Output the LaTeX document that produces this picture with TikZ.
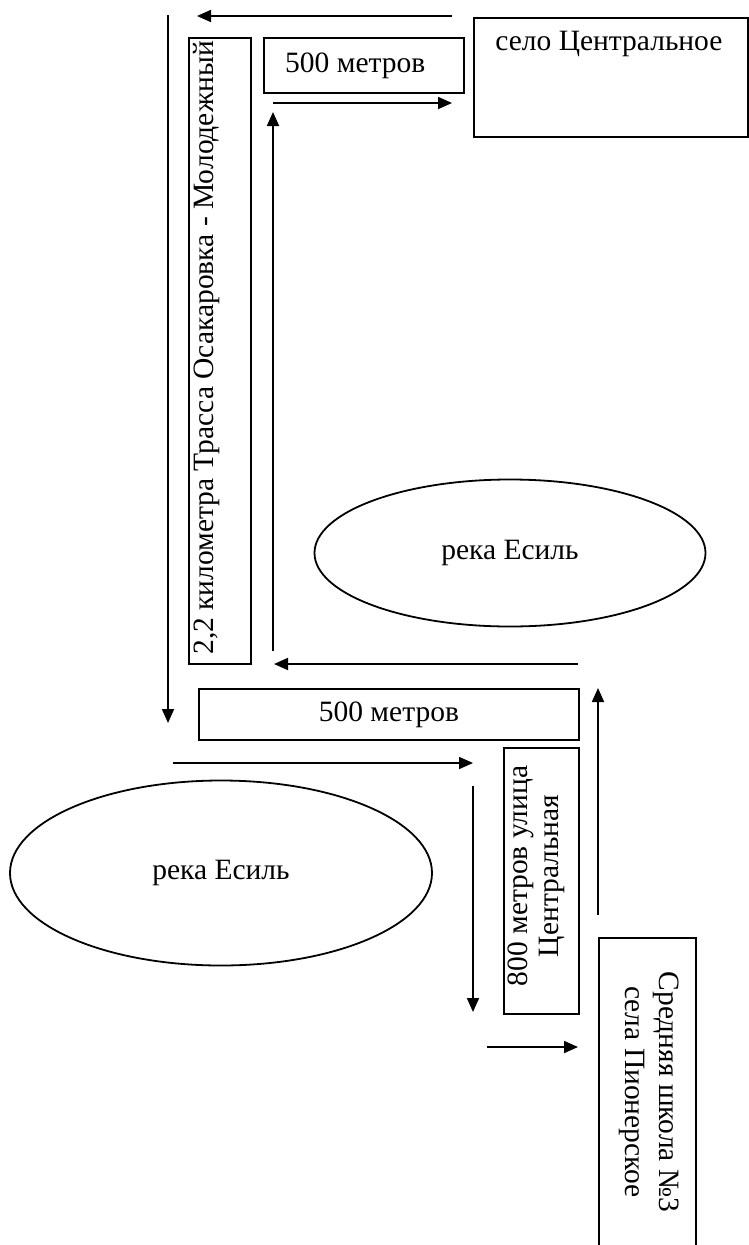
\documentclass[tikz,border=0pt]{standalone}
\usepackage{fontspec}
\setmainfont{Liberation Serif}
\usetikzlibrary{arrows.meta,positioning,shapes.geometric}

\begin{document}
\begin{tikzpicture}[x=1pt,y=-1pt,->,>={Triangle[length=14pt,width=12pt]},line width=1.8pt,
    font=\fontsize{29.5}{34}\selectfont,
    box/.style={draw,rectangle,inner sep=0pt,anchor=north west},
    river/.style={draw,ellipse,inner sep=0pt}]
    \useasboundingbox (0,0) rectangle (749,1245);
    %\draw[help lines] (0,0) grid (749,1245);
    \node[box,-,minimum width=274,minimum height=119] (centr) at (473,17) {} ;
    \node (centrtext) [below=10pt of centr.north,xshift=-2pt] {село Центральное} ;
    \node[box,-,minimum width=200,minimum height=55] (top500) at (263,37) {} ;
    \node (top500text) [right=18pt of top500.west,anchor=west] {500 метров} ;
    \node[box,-,minimum width=62,minimum height=626] (trassa) at (188,37) {} ;
    \node[rotate=90,inner sep=0pt] (trassatext) at (207,348) {2,2 километра Трасса Осакаровка - Молодежный} ;
    \node[river,-,minimum width=391,minimum height=147] (river1) at (510,553) {река Есиль} ;
    \node[box,-,minimum width=380,minimum height=51] (mid500) at (198,688) {} ;
    \node (mid500text) at (mid500.center) {500 метров} ;
    \node[river,-,minimum width=422,minimum height=185] (river2) at (221,873) {река Есиль} ;
    \node[box,-,minimum width=75,minimum height=266] (ul800) at (503,747) {} ;
    \node[rotate=90,align=center,inner sep=0pt,font=\fontsize{29.5}{31}\selectfont] (ul800text) at (536,876) {800 метров улица\\ Центральная} ;
    \node[box,-,minimum width=97,minimum height=312] (school) at (598,937) {} ;
    \node[rotate=-90,align=center,inner sep=0pt,font=\fontsize{29.5}{34}\selectfont] (schooltext) at (649,1092) {Средняя школа №3\\ села Пионерское} ;
    % free ends of the arrows
    \coordinate (a1) at (452,16) ; \coordinate (b1) at (197,16) ;
    \coordinate (a2) at (168,15) ; \coordinate (b2) at (168,723) ;
    \coordinate (a3) at (273,103) ; \coordinate (b3) at (452,103) ;
    \coordinate (a4) at (273,651) ; \coordinate (b4) at (273,112) ;
    \coordinate (a5) at (578,664) ; \coordinate (b5) at (274,664) ;
    \coordinate (a6) at (598,915) ; \coordinate (b6) at (598,688) ;
    \coordinate (a7) at (173,763) ; \coordinate (b7) at (473,763) ;
    \coordinate (a8) at (473,786) ; \coordinate (b8) at (473,1012) ;
    \coordinate (a9) at (487,1047) ; \coordinate (b9) at (578,1047) ;
    \draw (a1) -- (b1) ;
    \draw (a2) -- (b2) ;
    \draw (a3) -- (b3) ;
    \draw (a4) -- (b4) ;
    \draw (a5) -- (b5) ;
    \draw (a6) -- (b6) ;
    \draw (a7) -- (b7) ;
    \draw (a8) -- (b8) ;
    \draw (a9) -- (b9) ;
\end{tikzpicture}
\end{document}
